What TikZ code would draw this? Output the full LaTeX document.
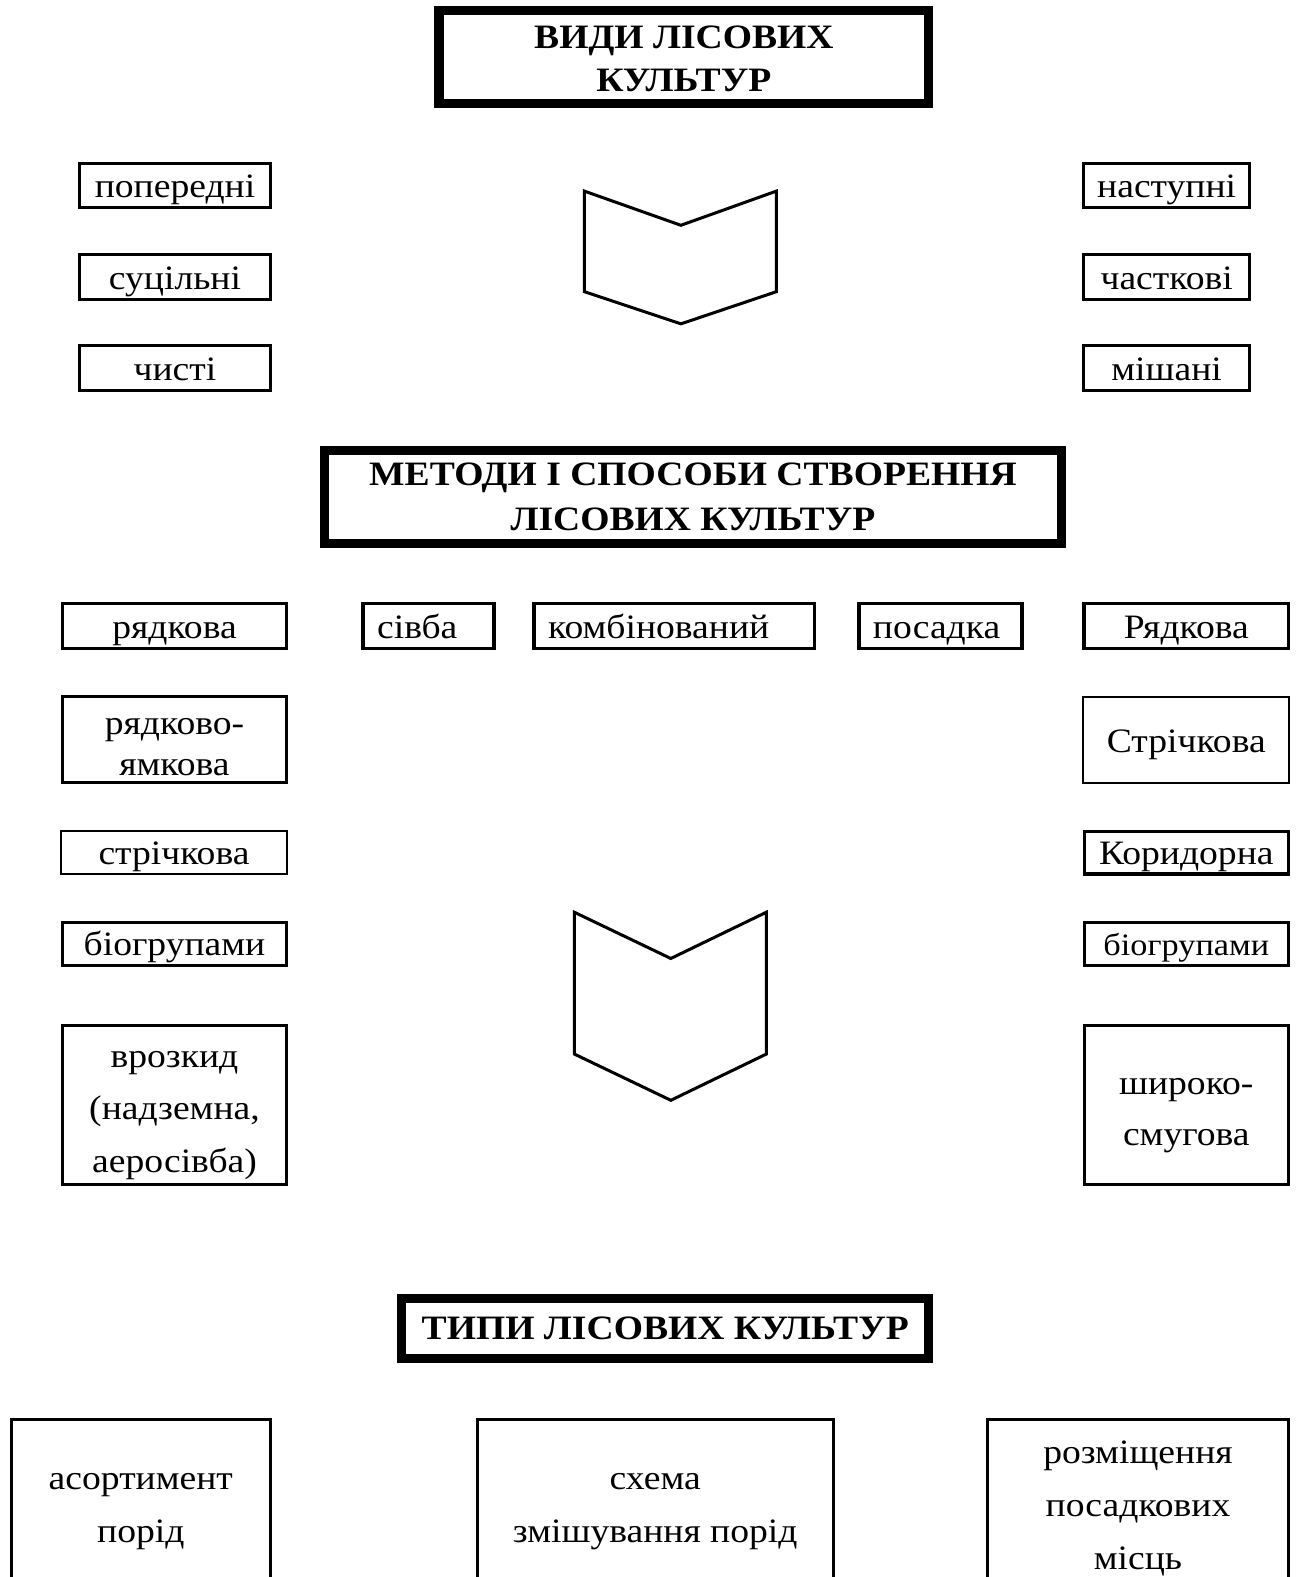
\documentclass[tikz,border=0pt]{standalone}
\usepackage{fontspec}
\setmainfont{Liberation Serif}[FakeStretch=1.1]
\usepackage{tikz}
\usetikzlibrary{positioning}
\tikzstyle{hd}=[%
      rectangle, draw=black, line width=9pt, fill=none,
      font=\fontsize{34}{41}\selectfont\bfseries,
      align=center, inner sep=0pt
]
\tikzstyle{bx}=[%
      rectangle, draw=black, line width=3pt, fill=none,
      align=center, inner sep=0pt
]
\tikzstyle{sl}=[text height=24pt, text depth=0pt]
\tikzstyle{lb}=[%
      rectangle, draw=black, line width=3.5pt, fill=none, sl,
      align=left, inner xsep=14pt, inner ysep=0pt
]
\tikzstyle{tx}=[align=center, inner sep=0pt]
\tikzstyle{chev}=[draw=black, line width=3pt, line join=miter]

\begin{document}
\begin{tikzpicture}[x=1pt, y=-1pt,
    font=\fontsize{34}{41}\selectfont
  ]
    \useasboundingbox (0,0) rectangle (1292,1568);

    % kinds
    \node[hd, minimum width=487pt, minimum height=92pt] (vydy) at (680,56.5) {};
    \node[tx, font=\fontsize{34}{42}\selectfont\bfseries] (vydyt) at (vydy.center) [yshift=-2pt]
        {ВИДИ ЛІСОВИХ\\КУЛЬТУР};
    \node[bx, sl, minimum width=189pt, minimum height=44pt] (poper) at (174,184.5) {попередні};
    \node[bx, sl, minimum width=189pt, minimum height=44pt] (sutsil) at (174,275.5) {суцільні};
    \node[bx, sl, minimum width=189pt, minimum height=44pt] (chysti) at (174,366) {чисті};
    \node[bx, sl, minimum width=165pt, minimum height=44pt] (nast) at (1160,184.5) {наступні};
    \node[bx, sl, minimum width=165pt, minimum height=44pt] (chast) at (1160,275.5) {часткові};
    \node[bx, sl, minimum width=165pt, minimum height=44pt] (mish) at (1160,366) {мішані};
    \draw[chev] (581,190) -- (677,224) -- (772,190) -- (772,290) -- (677,322) -- (581,290) -- cycle;

    % methods
    \node[hd, minimum width=733pt, minimum height=93pt, font=\fontsize{34}{44}\selectfont\bfseries]
        (metody) at (689,494) {МЕТОДИ І СПОСОБИ СТВОРЕННЯ\\ЛІСОВИХ КУЛЬТУР};
    \node[lb, align=center, text width=195pt, minimum height=45pt] (ryad) at (173.5,622.5) {рядкова};
    \node[lb, text width=102pt, minimum height=45pt] (sivba) at (426,622.5) {сівба};
    \node[lb, text width=251pt, minimum height=45pt] (komb) at (670.5,622.5) {комбінований};
    \node[lb, text width=134pt, minimum height=45pt] (posad) at (935,622.5) {посадка};
    \node[lb, align=center, text width=175pt, minimum height=45pt] (Ryad) at (1179.5,622.5) {Рядкова};
    \node[bx, minimum width=223pt, minimum height=85pt] (ryadyam) at (173.5,735.5) {};
    \node[tx] (ryadyamt) at (ryadyam.center) [yshift=-7pt] {рядково-\\ямкова};
    \node[bx, sl, line width=2pt, minimum width=205pt, minimum height=86pt] (Strich) at (1179.5,736) {Стрічкова};
    \node[bx, sl, line width=2pt, minimum width=224pt, minimum height=43pt] (strich) at (173,847.5) {стрічкова};
    \node[bx, sl, minimum width=203pt, minimum height=42pt] (Koryd) at (1179.5,848) {Коридорна};
    \node[bx, sl, minimum width=223pt, minimum height=43pt] (biol) at (173.5,938.5) {біогрупами};
    \node[bx, sl, minimum width=203pt, minimum height=43pt, font=\fontsize{31}{41}\selectfont]
        (bior) at (1179.5,938.5) {біогрупами};
    \node[bx, minimum width=223pt, minimum height=158pt] (vrozk) at (173.5,1099) {};
    \node[tx, font=\fontsize{34}{52}\selectfont] (vrozkt) at (vrozk.center) [yshift=-10pt]
        {врозкид\\(надземна,\\аеросівба)};
    \node[bx, minimum width=203pt, minimum height=158pt] (shyr) at (1179.5,1099) {};
    \node[tx, font=\fontsize{34}{51}\selectfont] (shyrt) at (shyr.center) [yshift=-10pt]
        {широко-\\смугова};
    \draw[chev] (571,907) -- (667,953) -- (762,907) -- (762,1048) -- (667,1094) -- (571,1048) -- cycle;

    % types
    \node[hd, minimum width=524pt, minimum height=59pt] (typy) at (661.5,1321) {ТИПИ ЛІСОВИХ КУЛЬТУР};
    \node[bx, minimum width=257pt, minimum height=169pt] (asort) at (140,1496) {};
    \node[tx, font=\fontsize{34}{52}\selectfont] (asortt) at (asort.center) [yshift=-7pt]
        {асортимент\\порід};
    \node[bx, minimum width=354pt, minimum height=169pt] (skhema) at (651.5,1496) {};
    \node[tx, font=\fontsize{34}{52}\selectfont] (skhemat) at (skhema.center) [yshift=-7pt]
        {схема\\змішування порід};
    \node[bx, minimum width=300pt, minimum height=169pt] (rozm) at (1131.5,1496) {};
    \node[tx, font=\fontsize{34}{53}\selectfont] (rozmt) at (rozm.center) [yshift=-4pt]
        {розміщення\\посадкових\\місць};
  \end{tikzpicture}
\end{document}
